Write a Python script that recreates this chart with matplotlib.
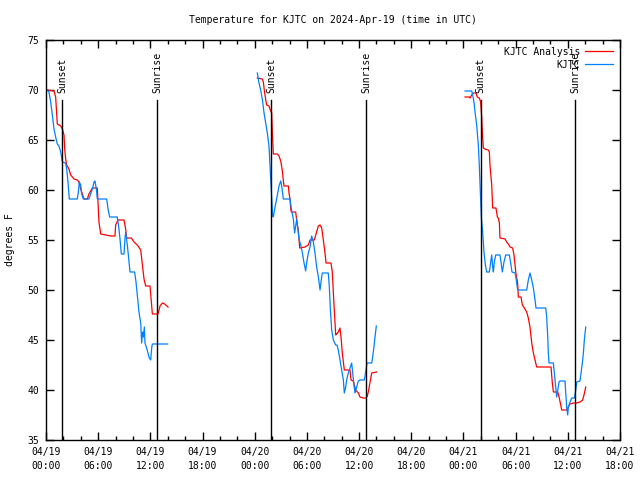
import numpy as np
import matplotlib
matplotlib.use('Agg')
import matplotlib.pyplot as plt
from datetime import datetime, timedelta

# hours since 2024-04-19 00:00 UTC, None breaks the line between nights
ana_hours = [0.15, 0.92, 1.11, 1.23, 1.30, 1.69, 1.88, 2.07, 2.15, 2.26, 2.38, 2.64, 2.84, 3.22, 3.60, 3.79,
             3.99, 4.18, 4.37, 4.75, 4.94, 5.14, 5.33, 5.90, 6.09, 6.29, 6.86, 7.44, 7.93, 8.01, 8.28, 8.97,
             9.16, 9.27, 9.81, 10.12, 10.50, 10.89, 11.08, 11.27, 11.46, 11.96, 12.04, 12.23, 12.88, 13.11,
             13.38, 13.64, 14.03, None,
             24.30, 24.87, 24.99, 25.14, 25.26, 25.37, 25.64, 25.83, 25.95, 26.03, 26.14, 26.60, 26.79, 26.99,
             27.18, 27.29, 27.37, 27.87, 27.94, 28.06, 28.14, 28.21, 28.71, 28.83, 29.02, 29.17, 29.78, 30.16,
             30.36, 30.85, 31.12, 31.31, 31.51, 31.70, 31.89, 32.08, 32.20, 32.77, 32.92, 33.04, 33.15, 33.31,
             33.42, 33.61, 33.80, 33.92, 34.07, 34.30, 34.95, 35.07, 35.34, 35.45, 35.61, 35.92, 36.10, 36.49,
             36.76, 36.91, 37.06, 37.25, 37.45, 38.02, None,
             48.18, 48.68, 48.75, 48.95, 49.14, 49.44, 49.59, 49.82, 49.98, 50.10, 50.21, 50.29, 50.48, 50.86,
             50.98, 51.05, 51.25, 51.36, 51.74, 51.90, 52.01, 52.13, 52.20, 52.78, 52.97, 53.16, 53.36, 53.66,
             53.81, 53.93, 54.04, 54.23, 54.31, 54.62, 54.77, 55.00, 55.27, 55.46, 55.65, 55.85, 56.04, 56.23,
             56.42, 58.07, 58.22, 58.34, 58.84, 59.02, 59.30, 59.87, 59.99, 60.26, 60.64, 61.03, 61.40, 61.71,
             61.86, 62.06]
ana_temp = [70.0, 69.9, 69.3, 67.5, 66.6, 66.4, 66.1, 65.5, 64.1, 63.1, 62.5, 62.1, 61.5, 61.1, 61.0, 60.8,
            60.1, 59.6, 59.1, 59.1, 59.6, 59.9, 60.2, 60.2, 56.8, 55.6, 55.5, 55.4, 55.4, 56.5, 57.0, 57.0,
            56.1, 55.2, 55.2, 54.8, 54.5, 54.0, 52.5, 51.1, 50.4, 50.4, 49.6, 47.6, 47.6, 48.4,
            48.7, 48.6, 48.3, None,
            71.2, 71.1, 70.8, 69.7, 69.1, 68.5, 68.4, 67.9, 67.7, 65.7, 63.6, 63.6, 63.4, 62.9,
            61.9, 60.9, 60.4, 60.4, 59.7, 59.1, 58.1, 57.8, 57.8, 56.9, 55.9, 54.2, 54.3, 54.5,
            55.0, 55.0, 55.8, 56.4, 56.5, 56.2, 55.0, 53.7, 52.7, 52.7, 51.8, 49.7, 48.0, 45.5,
            45.6, 45.8, 46.2, 45.3, 43.7, 42.0, 42.0, 41.0, 40.9, 40.5, 40.0, 39.7, 39.3, 39.2,
            39.2, 39.3, 39.8, 40.7, 41.7, 41.8, None,
            69.3, 69.3, 69.2, 69.5, 69.7, 69.7, 69.3, 69.2, 68.8, 67.2, 65.2, 64.2, 64.1, 64.0,
            63.8, 62.5, 60.5, 58.2, 58.2, 57.3, 57.2, 56.7, 55.2, 55.1, 54.8, 54.6, 54.3, 54.2,
            53.5, 52.5, 51.6, 50.7, 49.3, 49.3, 48.5, 48.2, 47.8, 47.2, 46.3, 44.7, 43.7, 43.0,
            42.3, 42.3, 40.7, 39.8, 39.8, 39.2, 38.0, 38.0, 38.2, 38.6, 38.7, 38.7, 38.8, 39.0,
            39.5, 40.3]

obs_hours = [0.15, 0.34, 0.54, 0.73, 0.92, 1.11, 1.30, 1.49, 1.69, 1.88, 2.26, 2.38, 2.53, 2.68, 3.60, 3.72,
             3.83, 3.99, 4.10, 4.29, 4.94, 5.14, 5.33, 5.52, 5.63, 5.79, 5.90, 6.98, 7.13, 7.32, 8.20, 8.39,
             8.51, 8.66, 8.97, 9.08, 9.16, 9.35, 9.47, 9.66, 10.19, 10.35, 10.50, 10.69, 10.89, 11.00, 11.11,
             11.19, 11.31, 11.38, 11.57, 11.88, 12.04, 12.15, 12.23, 13.99, None,
             24.30, 24.49, 24.68, 24.87, 25.07, 25.26, 25.45, 25.64, 25.76, 25.91, 26.06, 26.14, 26.29, 26.52,
             26.79, 26.99, 27.10, 27.29, 28.06, 28.21, 28.44, 28.59, 28.71, 28.83, 28.98, 29.09, 29.29, 29.48,
             29.67, 29.86, 29.97, 30.16, 30.36, 30.47, 30.55, 30.74, 30.93, 31.12, 31.32, 31.51, 31.62, 31.77,
             32.46, 32.58, 32.70, 32.85, 33.04, 33.31, 33.46, 33.61, 33.80, 34.00, 34.19, 34.30, 34.46, 34.57,
             34.76, 34.95, 35.15, 35.26, 35.38, 35.53, 35.72, 35.91, 36.10, 36.60, 36.76, 36.91, 37.45, 37.56,
             37.71, 37.83, 37.98, None,
             48.18, 48.95, 49.06, 49.21, 49.33, 49.52, 49.71, 49.82, 49.94, 50.06, 50.21, 50.36, 50.52, 50.67,
             50.98, 51.13, 51.25, 51.36, 51.44, 51.55, 51.71, 52.20, 52.32, 52.47, 52.66, 52.86, 53.28, 53.43,
             53.58, 53.93, 54.04, 54.20, 54.31, 55.27, 55.46, 55.65, 55.85, 56.04, 56.23, 56.34, 57.46, 57.57,
             57.69, 57.76, 57.84, 58.34, 58.45, 58.61, 58.72, 58.84, 58.99, 59.10, 59.68, 59.76, 59.87, 59.99,
             60.06, 60.26, 60.45, 60.76, 60.91, 61.03, 61.40, 61.52, 61.67, 61.79, 61.90, 62.06]
obs_temp = [70.0, 69.8, 68.8, 67.5, 66.1, 65.3, 64.6, 64.4, 63.8, 62.8, 62.7, 62.1, 60.8, 59.1, 59.1, 59.8,
            60.8, 60.5, 59.6, 59.1, 59.1, 59.6, 60.1, 60.8, 60.9, 60.1, 59.1, 59.1, 58.1, 57.3, 57.3, 56.1,
            55.1, 53.6, 53.6, 55.1, 55.8, 54.5, 53.5, 51.8, 51.8, 50.8, 49.5, 47.8, 46.7, 44.7, 45.8,
            45.3, 46.3, 44.7, 44.2, 43.2, 43.0, 44.2, 44.6, 44.6, None,
            71.7, 70.7, 70.0, 69.1, 67.7, 66.7, 65.7, 64.4, 62.4, 59.7, 57.4, 57.3, 58.1, 59.1,
            60.4, 60.9, 60.4, 59.1, 59.1, 58.1, 57.1, 55.7, 56.4, 57.1, 56.0, 55.1, 54.5, 53.7,
            52.7, 51.9, 52.7, 53.7, 54.3, 55.0, 55.4, 54.8, 53.7, 52.3, 51.3, 50.0, 50.8, 51.7,
            51.7, 50.3, 48.0, 46.0, 45.0, 44.5, 44.5, 44.0, 43.0, 42.0, 41.0, 39.7, 40.3, 41.0,
            41.7, 42.2, 42.7, 41.7, 40.7, 39.7, 40.3, 40.9, 41.0, 41.0, 41.8, 42.7, 42.7, 43.3,
            44.3, 45.3, 46.4, None,
            69.9, 69.9, 69.5, 68.8, 67.8, 66.5, 64.5, 62.5, 59.8, 57.2, 55.8, 53.8, 52.5, 51.8,
            51.8, 52.8, 53.5, 52.3, 51.8, 52.8, 53.5, 53.5, 52.8, 51.8, 52.8, 53.5, 53.5, 52.7,
            51.8, 51.7, 51.2, 50.2, 50.0, 50.0, 51.0, 51.7, 51.0, 50.2, 49.0, 48.2, 48.2, 47.3,
            45.3, 43.7, 42.7, 42.7, 41.7, 40.3, 39.3, 40.0, 40.8, 40.9, 40.9, 39.7, 38.3, 37.5,
            38.3, 38.8, 39.2, 39.2, 40.0, 40.8, 40.9, 41.7, 42.7, 43.7, 45.0, 46.3]

sunset_hours = [1.87, 25.91, 49.98]
sunrise_hours = [12.80, 36.83, 60.86]

start = datetime(2024, 4, 19)
tick_hours = list(range(0, 67, 6))
tick_labels = [(start + timedelta(hours=h)).strftime('%m/%d\n%H:%M') for h in tick_hours]

plt.rcParams['font.family'] = 'DejaVu Sans Mono'
plt.rcParams['font.size'] = 7

fig = plt.figure(figsize=(6.4, 4.8), dpi=100)
ax = fig.add_axes([46 / 640, 40 / 480, 574 / 640, 400 / 480])


def to_arr(vals):
    return np.array([np.nan if v is None else v for v in vals], dtype=float)


ax.plot(to_arr(ana_hours), to_arr(ana_temp), color='#ff0000', lw=0.9, label='KJTC Analysis')
ax.plot(to_arr(obs_hours), to_arr(obs_temp), color='#0080ff', lw=0.9, label='KJTC')

for h in sunset_hours:
    ax.plot([h, h], [35, 69], color='black', lw=1.0)
    ax.text(h, 69.7, 'Sunset', rotation=90, ha='center', va='bottom')
for h in sunrise_hours:
    ax.plot([h, h], [35, 69], color='black', lw=1.0)
    ax.text(h, 69.7, 'Sunrise', rotation=90, ha='center', va='bottom')

ax.set_xlim(0, 66)
ax.set_ylim(35, 75)
ax.set_xticks(tick_hours)
ax.set_xticklabels(tick_labels, linespacing=1.5)
ax.set_xticks(np.arange(0, 67, 2), minor=True)
ax.set_yticks(np.arange(35, 76, 5))
ax.tick_params(which='both', direction='in', top=True, right=True, width=1)
ax.tick_params(which='major', length=6, pad=5)
ax.tick_params(which='minor', length=3)
for s in ax.spines.values():
    s.set_linewidth(1)

ax.legend(loc='upper right', markerfirst=False, frameon=False, handlelength=2.9,
          handletextpad=0.5, borderaxespad=0.3, labelspacing=0.3)

fig.text(333 / 640, 1 - 20 / 480, 'Temperature for KJTC on 2024-Apr-19 (time in UTC)',
         ha='center', va='center')
fig.text(10 / 640, 0.5, 'degrees F', rotation=90, ha='center', va='center')

fig.savefig('out.png', dpi=100)
